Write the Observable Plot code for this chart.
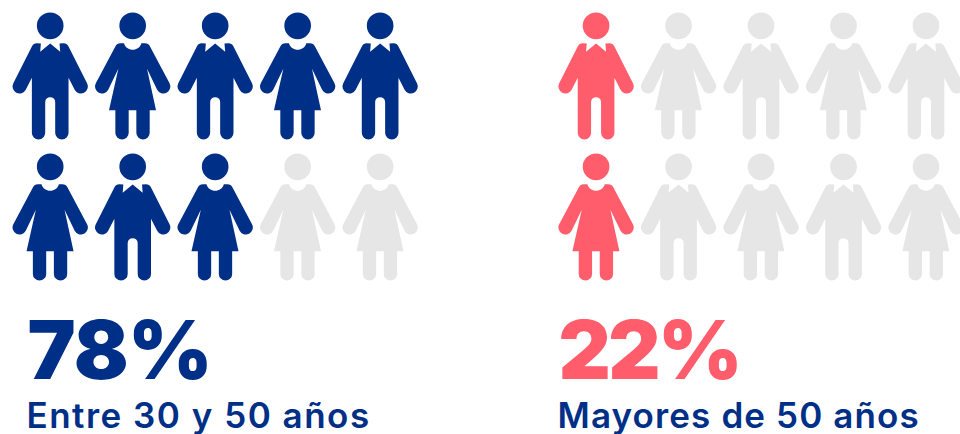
<!DOCTYPE html>
<html>
<head>
<meta charset="utf-8">
<script src="https://cdn.jsdelivr.net/npm/d3@7"></script>
<script src="https://cdn.jsdelivr.net/npm/@observablehq/plot@0.6"></script>
<style>html,body{margin:0;padding:0;background:#fff}svg{display:block}</style>
</head>
<body>
<div id="chart"></div>
<script>
const groups = ["Entre 30 y 50 años", "Mayores de 50 años"];
const percents = [78, 22];
const genders = [
  ["m","f","m","f","m","f","m","f","f","f"],
  ["m","f","m","f","m","f","m","f","m","f"]
];
const filledIcons = [
  [0, 1, 2, 3, 4, 5, 6, 7],
  [0, 5]
];
const EMPTY = "resto";

const icons = groups.flatMap((g, gi) => genders[gi].map((gender, i) => ({
  group: g,
  gender,
  slot: i % 5 + gi * 6.618,
  row: Math.floor(i / 5),
  state: filledIcons[gi].includes(i) ? g : EMPTY
})));

const k = 1 / 3;
function head(c) {
  c.moveTo(40 * k, 0);
  c.arc(0, 0, 40 * k, 0, 2 * Math.PI);
  c.closePath();
}
const P = (c, x, y) => c.lineTo(x * k, y * k);
const man = {draw(c) {
  head(c);
  c.moveTo(-30 * k, 78 * k);
  P(c, 0, 53);
  P(c, 30, 78);
  P(c, 28, 53);
  P(c, 40, 52);
  c.quadraticCurveTo(50 * k, 52 * k, 55 * k, 62 * k);
  c.arc(92 * k, 182 * k, 21 * k, -0.48, 2.66);
  P(c, 55, 156);
  P(c, 55, 321);
  c.arc(35 * k, 321 * k, 20 * k, 0, Math.PI);
  P(c, 15, 229);
  c.arc(0, 229 * k, 15 * k, 0, Math.PI, true);
  P(c, -15, 321);
  c.arc(-35 * k, 321 * k, 20 * k, 0, Math.PI);
  P(c, -55, 156);
  c.arc(-92 * k, 182 * k, 21 * k, 0.48, 3.62);
  P(c, -55, 62);
  c.quadraticCurveTo(-50 * k, 52 * k, -40 * k, 52 * k);
  P(c, -28, 53);
  c.closePath();
}};
const woman = {draw(c) {
  head(c);
  c.moveTo(-26 * k, 52 * k);
  c.bezierCurveTo(-20 * k, 78 * k, 20 * k, 78 * k, 26 * k, 52 * k);
  P(c, 37, 52);
  c.quadraticCurveTo(47 * k, 52 * k, 52 * k, 62 * k);
  c.arc(92 * k, 182 * k, 21 * k, -0.48, 2.66);
  P(c, 43, 129);
  P(c, 70, 253);
  P(c, 51, 253);
  P(c, 51, 321);
  c.arc(31 * k, 321 * k, 20 * k, 0, Math.PI);
  P(c, 11, 253);
  P(c, -12, 253);
  P(c, -12, 321);
  c.arc(-32 * k, 321 * k, 20 * k, 0, Math.PI);
  P(c, -52, 253);
  P(c, -71, 253);
  P(c, -43, 129);
  c.arc(-92 * k, 182 * k, 21 * k, 0.48, 3.62);
  P(c, -52, 62);
  c.quadraticCurveTo(-47 * k, 52 * k, -37 * k, 52 * k);
  c.closePath();
}};

const navy = "#002F87", red = "#FF5C6C", grey = "#E6E6E6";
const font = "Inter, sans-serif";

const label = (text, dx, dy, fill, fontSize, fontWeight, spacing) =>
  Plot.text([text], {frameAnchor: "top-left", textAnchor: "start", lineAnchor: "bottom",
    dx, dy, fill, fontSize, fontWeight, fontFamily: font,
    render(index, scales, values, dimensions, context, next) {
      const g = next(index, scales, values, dimensions, context);
      g.setAttribute("letter-spacing", spacing);
      return g;
    }});

const chart = Plot.plot({
  width: 960,
  height: 434,
  margin: 0,
  axis: null,
  x: {type: "linear", domain: [0, 10.618], range: [49.7, 925.5]},
  y: {type: "linear", domain: [0, 1], range: [25.3, 166.3]},
  color: {type: "ordinal", domain: [groups[0], groups[1], EMPTY], range: [navy, red, grey]},
  marks: [
    Plot.dot(icons.filter(d => d.gender === "m"), {x: "slot", y: "row", fill: "state", symbol: man, stroke: "none"}),
    Plot.dot(icons.filter(d => d.gender === "f"), {x: "slot", y: "row", fill: "state", symbol: woman, stroke: "none"}),
    label(percents[0] + "%", 27, 378, navy, 81, 900, -0.8),
    label(percents[1] + "%", 558, 378, red, 81, 900, -2.6),
    label(groups[0], 26, 427, navy, 35, 600, 1.5),
    label(groups[1], 557, 427, navy, 35, 600, 1.12)
  ]
});
document.getElementById("chart").append(chart);
</script>
</body>
</html>
